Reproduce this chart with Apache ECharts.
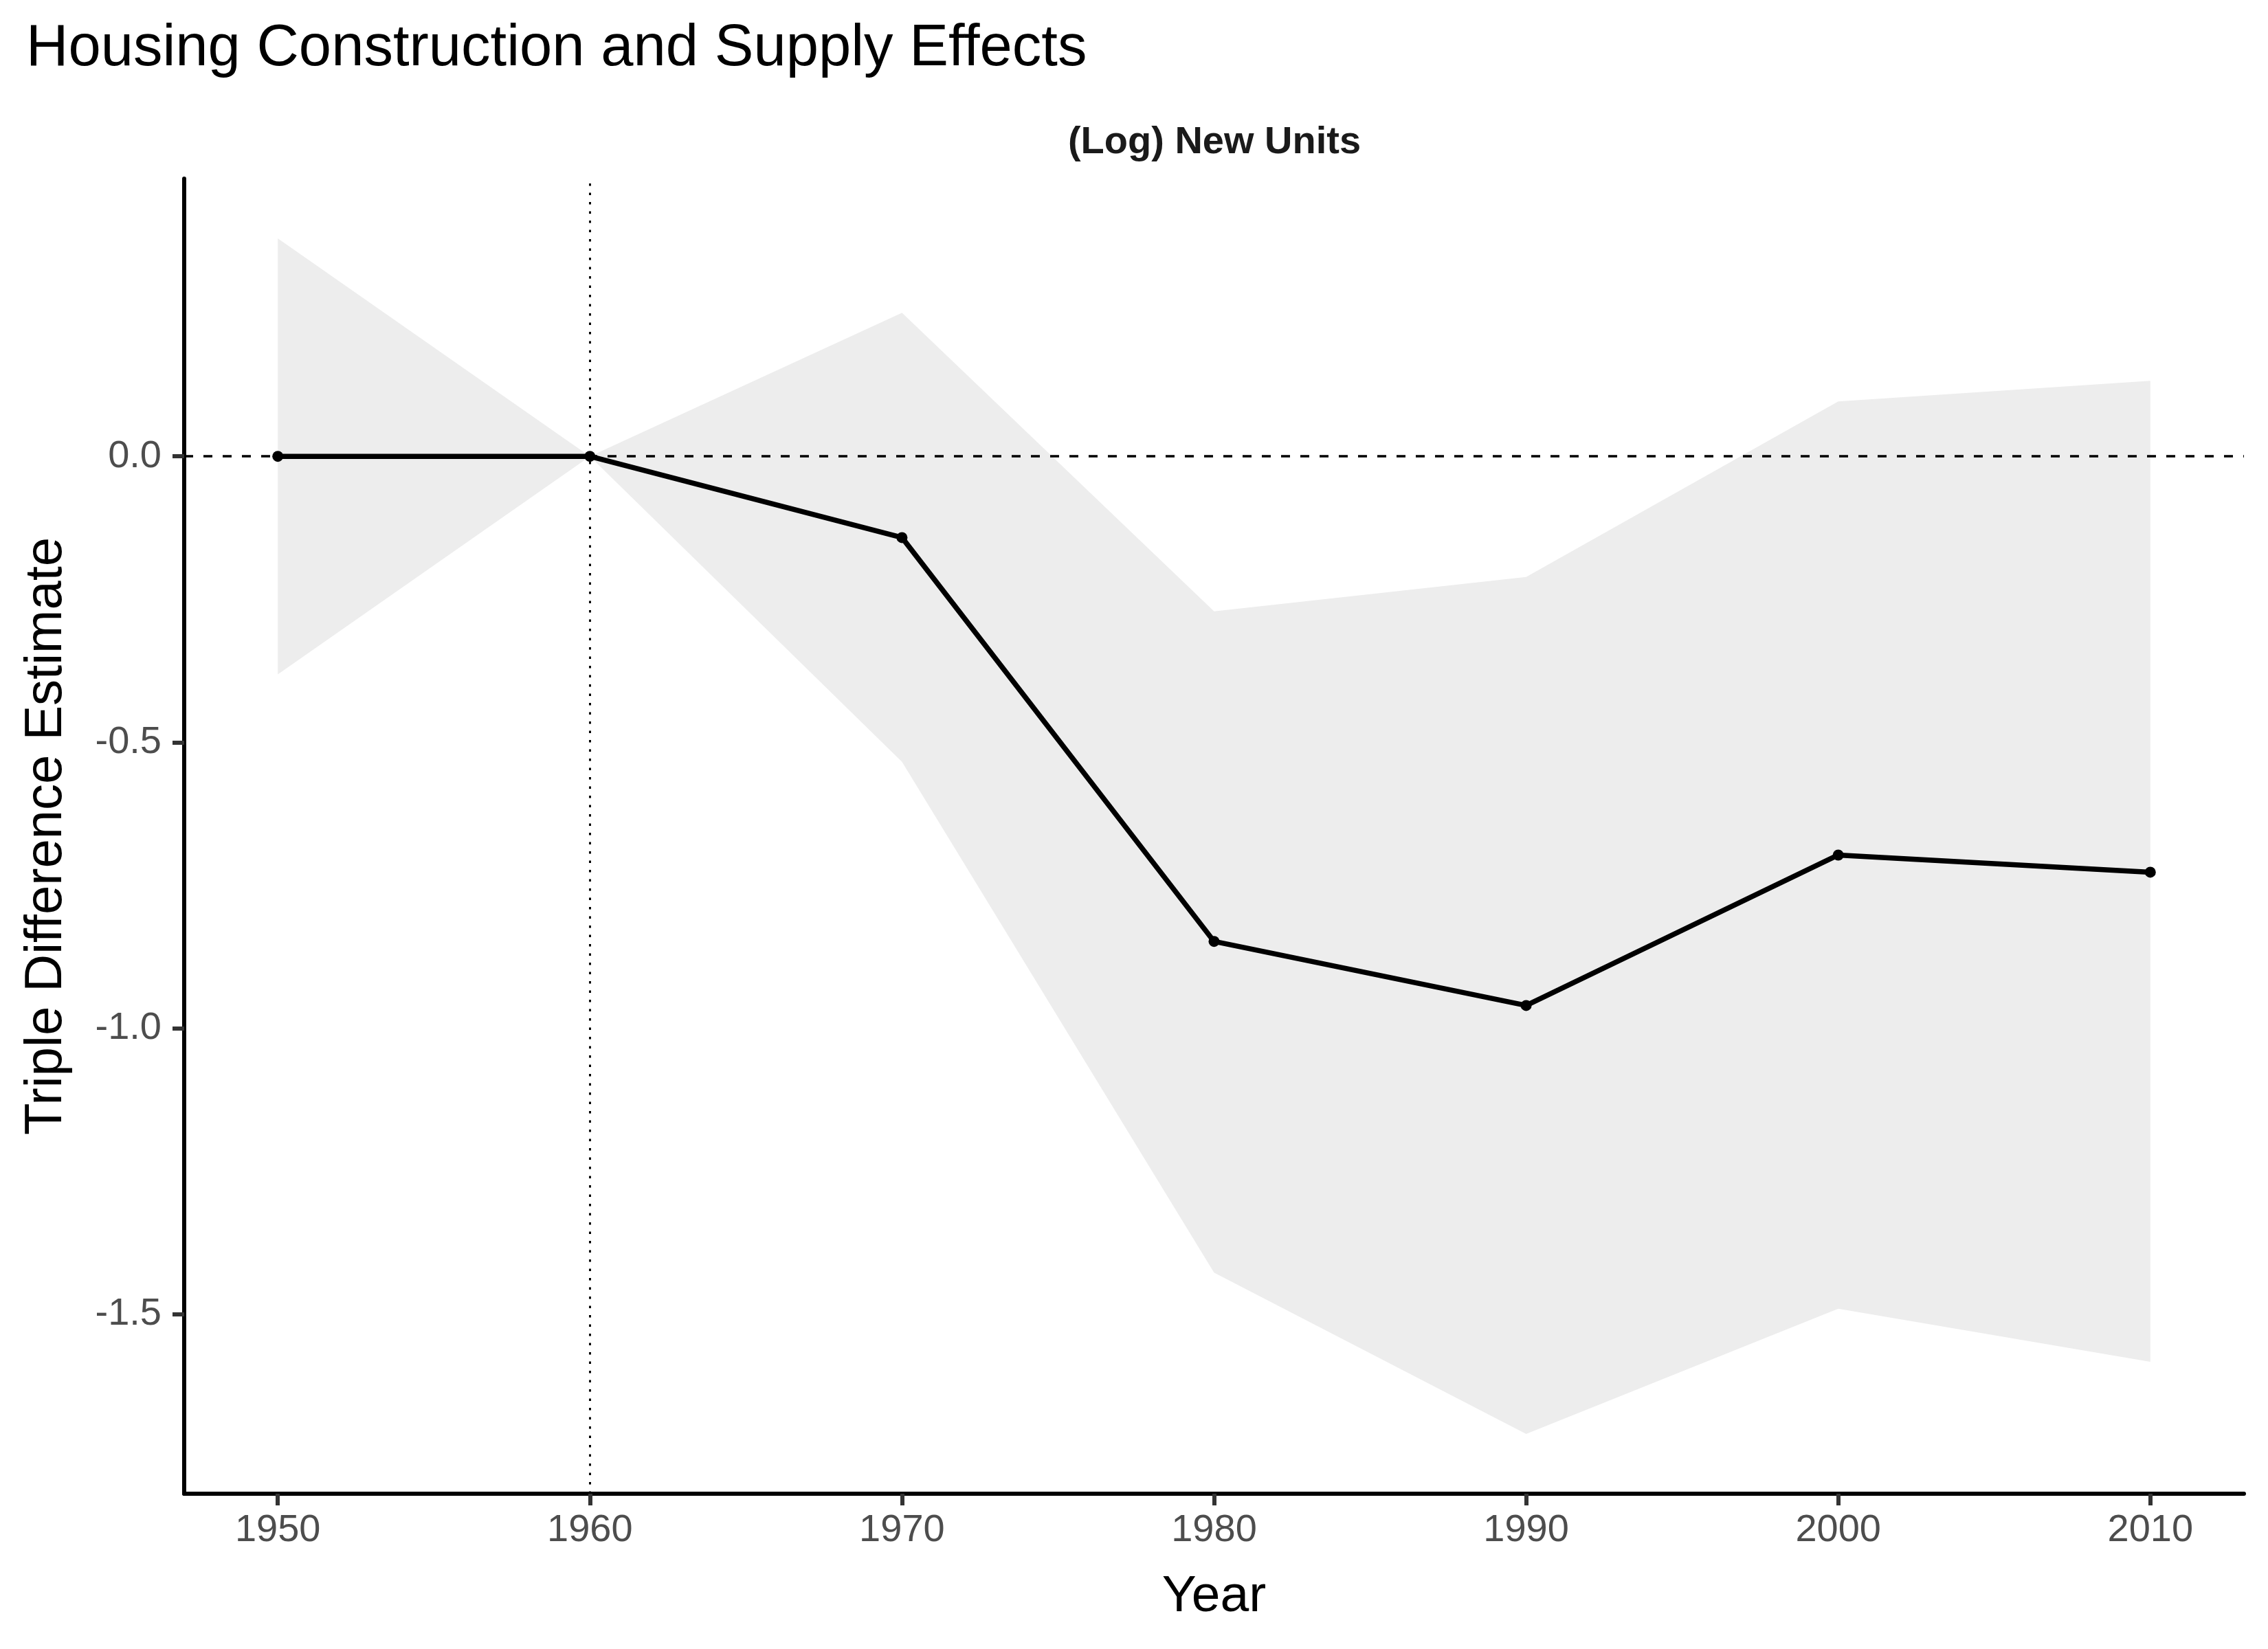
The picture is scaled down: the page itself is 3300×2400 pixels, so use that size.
<!DOCTYPE html>
<html>
<head>
<meta charset="utf-8">
<script src="https://cdn.jsdelivr.net/npm/echarts@6/dist/echarts.min.js"></script>
<style>
html,body{margin:0;padding:0;background:#fff;}
#chart{width:3300px;height:2400px;}
</style>
</head>
<body>
<div id="chart"></div>
<script>
// ---- data ----
var years = [1950, 1960, 1970, 1980, 1990, 2000, 2010];
var estimate = [0.0, 0.0, -0.142, -0.848, -0.960, -0.697, -0.727];
var upper = [0.381, 0.0, 0.251, -0.271, -0.211, 0.096, 0.132];
var lower = [-0.381, 0.0, -0.534, -1.427, -1.709, -1.490, -1.583];
var xTicks = [1950, 1960, 1970, 1980, 1990, 2000, 2010];
var yTicks = [-1.5, -1.0, -0.5, 0.0];

var FONT = 'Liberation Sans, Arial, Helvetica, sans-serif';

// ggplot-style 5% expansion
var yMaxData = Math.max.apply(null, upper), yMinData = Math.min.apply(null, lower);
var yPad = (yMaxData - yMinData) * 0.05;
var xPad = (years[years.length - 1] - years[0]) * 0.05;

var chart = echarts.init(document.getElementById('chart'), null, {renderer: 'canvas'});

var option = {
  backgroundColor: '#ffffff',
  animation: false,
  title: {
    text: 'Housing Construction and Supply Effects',
    left: 33,
    top: 24,
    textStyle: {fontFamily: FONT, fontSize: 85, fontWeight: 'normal', color: '#000000'}
  },
  graphic: [{
    type: 'text',
    x: 1767,
    y: 208,
    style: {
      text: '(Log) New Units',
      fontFamily: FONT, fontSize: 56, fontWeight: 'bold', fill: '#1A1A1A',
      textAlign: 'center', textVerticalAlign: 'middle'
    }
  }],
  grid: {left: 268, right: 35, top: 260, bottom: 226, containLabel: false},
  xAxis: {
    type: 'value',
    min: years[0] - xPad,
    max: years[years.length - 1] + xPad,
    name: 'Year',
    nameLocation: 'middle',
    nameGap: 113,
    nameTextStyle: {fontFamily: FONT, fontSize: 75, color: '#000000'},
    axisLine: {show: true, onZero: false, lineStyle: {color: '#000000', width: 6}},
    axisTick: {show: true, length: 17, customValues: xTicks, lineStyle: {color: '#333333', width: 6}},
    axisLabel: {
      customValues: xTicks, margin: 26,
      fontFamily: FONT, fontSize: 56, color: '#4D4D4D',
      formatter: function (v) { return String(v); }
    },
    splitLine: {show: false}
  },
  yAxis: {
    type: 'value',
    min: yMinData - yPad,
    max: yMaxData + yPad,
    name: 'Triple Difference Estimate',
    nameLocation: 'middle',
    nameGap: 162,
    nameRotate: 90,
    nameTextStyle: {fontFamily: FONT, fontSize: 76, color: '#000000'},
    axisLine: {show: true, onZero: false, lineStyle: {color: '#000000', width: 6}},
    axisTick: {show: true, length: 17, customValues: yTicks, lineStyle: {color: '#333333', width: 6}},
    axisLabel: {
      customValues: yTicks, margin: 33,
      fontFamily: FONT, fontSize: 56, color: '#4D4D4D',
      formatter: function (v) { return Number(v).toFixed(1); }
    },
    splitLine: {show: false}
  },
  series: [
    {
      type: 'custom',
      name: 'CI',
      silent: true,
      z: 1,
      data: years.map(function (y, i) { return [y, upper[i], lower[i]]; }),
      encode: {x: 0, y: [1, 2]},
      renderItem: function (params, api) {
        if (params.dataIndex !== 0) return null;
        var pts = [];
        for (var i = 0; i < years.length; i++) pts.push(api.coord([years[i], upper[i]]));
        for (var j = years.length - 1; j >= 0; j--) pts.push(api.coord([years[j], lower[j]]));
        return {type: 'polygon', shape: {points: pts}, style: {fill: '#EDEDED', stroke: null}};
      }
    },
    {
      type: 'line',
      name: 'Estimate',
      z: 5,
      data: years.map(function (y, i) { return [y, estimate[i]]; }),
      symbol: 'circle',
      symbolSize: 16,
      showSymbol: true,
      lineStyle: {color: '#000000', width: 7.5},
      itemStyle: {color: '#000000'},
      markLine: {
        silent: true,
        symbol: ['none', 'none'],
        label: {show: false},
        data: [
          {yAxis: 0, lineStyle: {color: '#000000', width: 3.5, type: [13, 15]}},
          {xAxis: 1960, lineStyle: {color: '#000000', width: 3, type: [3.5, 10]}}
        ]
      }
    }
  ]
};
chart.setOption(option);
</script>
</body>
</html>
